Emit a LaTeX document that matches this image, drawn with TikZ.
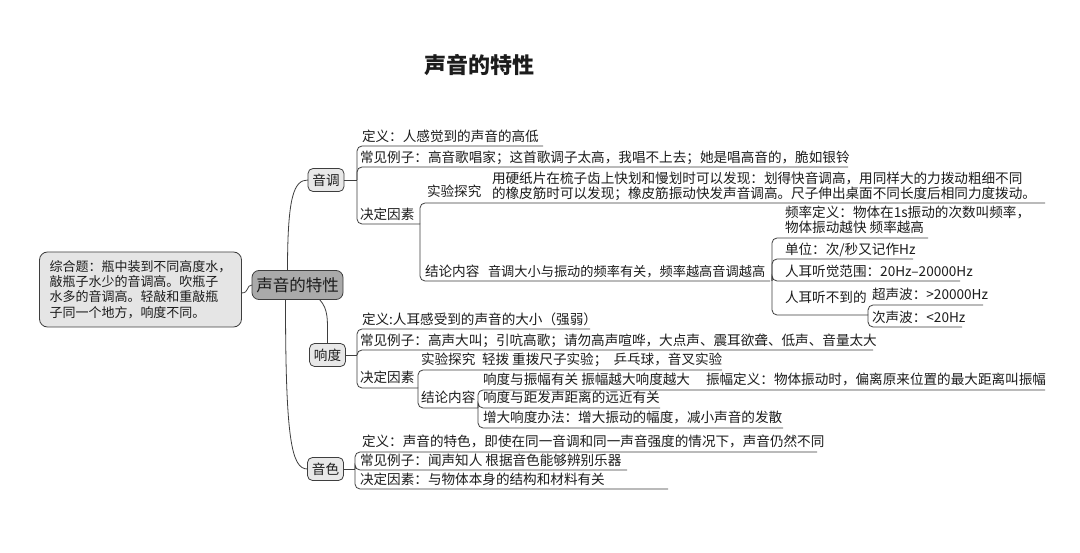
\documentclass[tikz,border=0pt]{standalone}
\usepackage{fontspec}
\setmainfont{Noto Sans CJK SC}

\definecolor{mmline}{RGB}{62,62,62}
\definecolor{mmrootfill}{RGB}{170,170,170}
\definecolor{mmtopicfill}{RGB}{232,232,232}
\definecolor{mmnotefill}{RGB}{229,229,229}
\definecolor{mmtext}{RGB}{28,28,28}

% one underlined branch: spine x, junction y, underline y, end x
\newcommand{\twig}[4]{\draw[link] (#1,#2) |- (#4,#3);}

\begin{document}
\begin{tikzpicture}[
  x=1pt,
  y=-1pt,
  every node/.style={inner sep=0pt, outer sep=0pt},
  txt/.style={anchor=base west, font=\fontsize{13.6}{15.2}\selectfont, text=mmtext, align=left},
  heading/.style={font=\bfseries\fontsize{22}{24}\selectfont, text=mmtext},
  topic/.style={draw=mmline, fill=mmtopicfill, rounded corners=5pt, line width=0.8pt, minimum width=36pt, minimum height=23pt, font=\fontsize{13.6}{15}\selectfont, text=mmtext},
  rootbox/.style={draw=mmline, fill=mmrootfill, rounded corners=7pt, line width=0.8pt, minimum width=91pt, minimum height=29pt, font=\fontsize{16.5}{18}\selectfont, text=mmtext},
  notebox/.style={draw=mmline, fill=mmnotefill, rounded corners=8pt, line width=0.8pt, minimum width=195pt, minimum height=75pt, inner xsep=10pt, font=\fontsize{13}{15.4}\selectfont, text=mmtext, align=left},
  link/.style={draw=mmline, line width=0.8pt, rounded corners=5pt}
]

  \fill[white] (0,0) rectangle (1080,553);
  \path[use as bounding box] (0,0) rectangle (1080,553);

  \node[heading] (title) at (479,65) {声音的特性};

  % Centre and note
  \node[rootbox] (root) at (297.5,285) {声音的特性};
  \node[notebox] (quiz) at (140.5,289.5) {综合题：瓶中装到不同高度水，\\敲瓶子水少的音调高。吹瓶子\\水多的音调高。轻敲和重敲瓶\\子同一个地方，响度不同。};
  \draw[link] ([yshift=-3.5pt]quiz.east) .. controls +(8,0) and +(-6,0) .. (root.west);

  % Main topics
  \node[topic] (pitch) at (326,180) {音调};
  \node[topic] (loud) at (327.5,355) {响度};
  \node[topic] (timbre) at (325.5,469) {音色};

  \draw[link] ([xshift=-10pt]root.north) .. controls +(0,-75) and +(-14,0) .. (pitch.west);
  \draw[link] ([xshift=22pt]root.south) .. controls +(9,10) and +(0,-25) .. (loud.north);
  \draw[link] ([xshift=-12pt]root.south) .. controls +(0,140) and +(-16,0) .. (timbre.west);

  % Pitch
  \draw[link] (pitch.east) -- (357,180);
  \twig{357}{180}{146}{543}
  \twig{357}{180}{167}{848}
  \twig{357}{180}{224}{420}
  \node[txt] (pdef) at (362,142) {定义：人感觉到的声音的高低};
  \node[txt] (pex) at (360,163) {常见例子：高音歌唱家；这首歌调子太高，我唱不上去；她是唱高音的，脆如银铃};
  \node[txt] (pfac) at (360,220) {决定因素};

  \twig{420}{224}{203}{1045}
  \twig{420}{224}{281}{770}
  \node[txt] (pexp) at (427,197) {实验探究};
  \node[txt] (pexpt) at (492,199) {用硬纸片在梳子齿上快划和慢划时可以发现：划得快音调高，用同样大的力拨动粗细不同\\的橡皮筋时可以发现；橡皮筋振动快发声音调高。尺子伸出桌面不同长度后相同力度拨动。};
  \node[txt] (pcon) at (425,277) {结论内容};
  \node[txt, font=\fontsize{13.2}{15}\selectfont] (pcont) at (488,277) {音调大小与振动的频率有关，频率越高音调越高};

  \twig{772}{281}{238}{928}
  \twig{772}{281}{259}{913}
  \twig{772}{281}{281}{960}
  \twig{772}{281}{315}{868}
  \node[txt] (freq) at (785,233) {频率定义：物体在1s振动的次数叫频率，\\物体振动越快 频率越高};
  \node[txt] (unit) at (785,255) {单位：次/秒又记作Hz};
  \node[txt] (range) at (785,277) {人耳听觉范围：20Hz–20000Hz};
  \node[txt] (deaf) at (785,303) {人耳听不到的};

  \twig{868}{315}{305}{983}
  \twig{868}{315}{327}{962}
  \node[txt] (ultra) at (872,300) {超声波：>20000Hz};
  \node[txt] (infra) at (872,323) {次声波：<20Hz};

  % Loudness
  \draw[link] (loud.east) -- (357,355);
  \twig{357}{355}{329}{590}
  \twig{357}{355}{350}{873}
  \twig{357}{355}{388}{418}
  \node[txt] (ldef) at (362,325) {定义:人耳感受到的声音的大小（强弱）};
  \node[txt] (lex) at (360,346) {常见例子：高声大叫；引吭高歌；请勿高声喧哗，大点声、震耳欲聋、低声、音量太大};
  \node[txt] (lfac) at (360,383) {决定因素};

  \twig{418}{388}{370}{722}
  \twig{418}{388}{408}{478}
  \node[txt] (lexp) at (421,365) {实验探究};
  \node[txt] (lexpt) at (482,365) {轻拨 重拨尺子实验；\ \ 乒乓球，音叉实验};
  \node[txt] (lcon) at (421,403) {结论内容};

  \twig{478}{408}{390}{1045}
  \twig{478}{408}{408}{660}
  \twig{478}{408}{428}{783}
  \node[txt] (amp) at (483,385) {响度与振幅有关 振幅越大响度越大};
  \node[txt] (ampdef) at (706,385) {振幅定义：物体振动时，偏离原来位置的最大距离叫振幅};
  \node[txt] (dist) at (483,403) {响度与距发声距离的远近有关};
  \node[txt] (raise) at (483,423) {增大响度办法：增大振动的幅度，减小声音的发散};

  % Timbre
  \draw[link] (timbre.east) -- (355,469);
  \twig{355}{469}{452}{817}
  \twig{355}{469}{470}{627}
  \twig{355}{469}{489}{668}
  \node[txt] (tdef) at (362,447) {定义：声音的特色，即使在同一音调和同一声音强度的情况下，声音仍然不同};
  \node[txt] (tex) at (360,465) {常见例子：闻声知人 根据音色能够辨别乐器};
  \node[txt] (tfac) at (360,485) {决定因素：与物体本身的结构和材料有关};

\end{tikzpicture}
\end{document}
